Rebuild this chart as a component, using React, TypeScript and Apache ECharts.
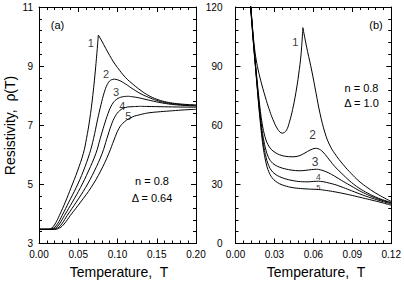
import React, { useEffect, useRef } from "react";
import * as echarts from "echarts";

const FONT = '"Liberation Sans", Arial, Helvetica, sans-serif';

// Panel (a): n = 0.8, Delta = 0.64  — [T, rho]
const curveA1 = [[0,3.48],[0.012,3.48],[0.0165,3.53],[0.0205,3.66],[0.026,3.95],[0.0335,4.4],[0.041,4.9],[0.049,5.45],[0.0565,6.05],[0.0605,6.55],[0.0645,7.18],[0.0685,8.0],[0.0723,9.0],[0.0756,10.05],[0.08,9.85],[0.085,9.6],[0.09,9.36],[0.095,9.14],[0.1,8.95],[0.11,8.62],[0.12,8.38],[0.13,8.17],[0.14,8.0],[0.15,7.88],[0.16,7.8],[0.17,7.75],[0.18,7.72],[0.19,7.7],[0.2,7.69]];
const curveA2 = [[0,3.48],[0.014,3.48],[0.019,3.53],[0.0235,3.66],[0.0295,3.95],[0.038,4.4],[0.0475,4.9],[0.0565,5.45],[0.0645,6.05],[0.0695,6.55],[0.0745,7.18],[0.079,7.7],[0.083,8.1],[0.087,8.38],[0.091,8.52],[0.096,8.56],[0.102,8.52],[0.11,8.4],[0.12,8.22],[0.13,8.06],[0.14,7.94],[0.15,7.84],[0.16,7.77],[0.17,7.73],[0.18,7.7],[0.19,7.68],[0.2,7.67]];
const curveA3 = [[0,3.48],[0.016,3.48],[0.0215,3.53],[0.026,3.66],[0.0325,3.95],[0.0425,4.4],[0.053,4.9],[0.063,5.45],[0.0725,6.05],[0.078,6.55],[0.083,7.0],[0.088,7.4],[0.093,7.7],[0.099,7.88],[0.106,7.96],[0.114,7.98],[0.125,7.94],[0.135,7.88],[0.15,7.79],[0.165,7.72],[0.18,7.68],[0.2,7.65]];
const curveA4 = [[0,3.48],[0.018,3.48],[0.024,3.53],[0.029,3.66],[0.036,3.95],[0.0475,4.4],[0.0595,4.9],[0.0705,5.45],[0.0805,6.05],[0.0865,6.55],[0.092,7.0],[0.097,7.3],[0.103,7.5],[0.11,7.6],[0.12,7.63],[0.13,7.64],[0.15,7.63],[0.17,7.62],[0.2,7.61]];
const curveA5 = [[0,3.48],[0.02,3.48],[0.0265,3.53],[0.032,3.66],[0.04,3.95],[0.053,4.4],[0.0665,4.9],[0.0785,5.45],[0.089,6.05],[0.0955,6.5],[0.102,6.9],[0.109,7.12],[0.119,7.28],[0.129,7.36],[0.14,7.42],[0.155,7.46],[0.17,7.49],[0.185,7.52],[0.2,7.54]];

// Panel (b): n = 0.8, Delta = 1.0 — [T, rho]
const curveB1 = [[0.0105,131],[0.0116,122],[0.0128,112],[0.014,103],[0.0155,95],[0.0175,88],[0.0201,81],[0.0238,72.5],[0.0265,67],[0.0288,63],[0.0325,58],[0.036,56],[0.039,57.2],[0.0415,61.5],[0.044,68],[0.0465,76.5],[0.0486,85.5],[0.0505,96],[0.0519,109.5],[0.0535,104],[0.0555,97.5],[0.0588,87.5],[0.062,76.5],[0.0651,66],[0.069,56],[0.0725,50],[0.0766,45.5],[0.083,40],[0.0893,35.4],[0.095,31.7],[0.102,28.2],[0.11,24.8],[0.12,21.3]];
const curveB2 = [[0.0105,130.5],[0.0116,121.5],[0.0128,111.5],[0.014,101.5],[0.0153,92],[0.0166,83],[0.0179,74.5],[0.0192,67],[0.0205,61],[0.022,56],[0.0235,52.5],[0.025,50.2],[0.0275,47.8],[0.0305,46.2],[0.034,45],[0.038,44.3],[0.0436,44],[0.048,44.3],[0.0515,45.2],[0.0555,46.7],[0.0595,48],[0.0625,48.3],[0.0655,47.5],[0.069,45.2],[0.0725,42.3],[0.0766,39],[0.083,34.8],[0.0893,31],[0.095,28.2],[0.102,25.5],[0.11,23],[0.12,20.8]];
const curveB3 = [[0.0105,130],[0.0116,121],[0.0128,111],[0.014,101],[0.0153,91],[0.0166,81.5],[0.0179,72.5],[0.0192,64.5],[0.0205,57.5],[0.022,51.5],[0.0235,47.3],[0.025,44.3],[0.0275,41.5],[0.0305,39.8],[0.034,38.7],[0.038,37.9],[0.0436,37.2],[0.049,36.9],[0.0537,37.1],[0.0585,37.5],[0.0626,37.7],[0.0665,37.2],[0.0715,35.9],[0.0765,34.1],[0.0817,32],[0.088,29.6],[0.0943,27.2],[0.1,25.3],[0.107,23.3],[0.114,21.7],[0.12,20.5]];
const curveB4 = [[0.0105,129.5],[0.0116,120.5],[0.0128,110.5],[0.014,100.5],[0.0153,90.5],[0.0166,80.5],[0.0179,71],[0.0192,62.5],[0.0205,55],[0.022,48.5],[0.0235,43.8],[0.025,40.5],[0.0275,37.2],[0.0305,35.2],[0.034,33.9],[0.038,32.9],[0.0435,32],[0.05,31.4],[0.056,31.3],[0.06,31.5],[0.064,31.6],[0.068,31.3],[0.0725,30.6],[0.0766,29.9],[0.083,28.4],[0.0893,26.8],[0.098,24.6],[0.107,22.6],[0.114,21.2],[0.12,20]];
const curveB5 = [[0.0105,129],[0.0116,120],[0.0128,110],[0.014,100],[0.0153,90],[0.0166,80],[0.0179,70],[0.0192,61],[0.0205,53],[0.022,46],[0.0235,41],[0.025,37.5],[0.0275,34],[0.0305,31.8],[0.034,30.3],[0.038,29.3],[0.0435,28.4],[0.05,27.9],[0.057,27.6],[0.064,27.4],[0.07,26.9],[0.0766,26.2],[0.085,25.1],[0.0918,24.1],[0.1,22.8],[0.107,21.7],[0.114,20.5],[0.12,19.4]];

// Curve number labels: [T, rho, text, fontSize]
const labelsA = [[0.0659,9.77,"1",11],[0.0854,8.73,"2",11],[0.0981,8.14,"3",11],[0.1061,7.66,"4",11],[0.1138,7.31,"5",11]];
const labelsB = [[0.0461,102.4,"1",11],[0.0593,55,"2",12],[0.0613,41.5,"3",12],[0.0638,33.9,"4",8.5],[0.0638,28.3,"5",7.5]];

const xRangeA = [0, 0.2, 0.05];
const yRangeA = [3, 11, 2];
const xRangeB = [0, 0.12, 0.03];
const yRangeB = [0, 120, 30];

function splitAtPeak(d: number[][]) {
  for (let i = 1; i < d.length - 1; i++) {
    if (d[i][1] > d[i - 1][1] && d[i][1] > d[i + 1][1]) {
      return [d.slice(0, i + 1), d.slice(i)];
    }
  }
  return [d];
}

function axisCommon(showLabel: boolean, margin: number, fmt: (v: number) => string) {
  return {
    type: "value",
    axisLine: { show: true, onZero: false, lineStyle: { color: "#000", width: 1 } },
    axisTick: { show: true, inside: true, length: 5, lineStyle: { color: "#000", width: 1 } },
    minorTick: { show: true, splitNumber: 5, length: 3, lineStyle: { color: "#000", width: 1 } },
    splitLine: { show: false },
    minorSplitLine: { show: false },
    axisLabel: { show: showLabel, color: "#000", fontSize: 10, fontFamily: FONT, margin, formatter: fmt },
  };
}

function mkAxis(gridIndex: number, position: string, r: number[], showLabel: boolean, margin: number, fmt: (v: number) => string) {
  return { ...axisCommon(showLabel, margin, fmt), gridIndex, position, min: r[0], max: r[1], interval: r[2] };
}

function lineSeries(data: number[][], axisIdx: number) {
  return splitAtPeak(data).map((seg) => ({
    type: "line",
    xAxisIndex: axisIdx,
    yAxisIndex: axisIdx,
    data: seg,
    symbol: "none",
    smooth: 0.4,
    clip: true,
    silent: true,
    lineStyle: { color: "#000", width: 1 },
  }));
}

function labelSeries(labels: any[][], axisIdx: number) {
  return {
    type: "scatter",
    xAxisIndex: axisIdx,
    yAxisIndex: axisIdx,
    symbolSize: 1,
    silent: true,
    itemStyle: { color: "rgba(0,0,0,0)" },
    label: { show: true, position: "inside", formatter: "{b}", color: "#000", fontFamily: FONT, fontSize: 11 },
    data: labels.map(([t, r, txt, fs]) => ({ value: [t, r], name: txt, label: { fontSize: fs } })),
  };
}

function txt(text: string, x: number, y: number, size: number, rotation = 0) {
  return {
    type: "text",
    x,
    y,
    rotation,
    silent: true,
    style: {
      text,
      fill: "#000",
      fontSize: size,
      fontFamily: FONT,
      align: "center",
      verticalAlign: "middle",
      textAlign: "center",
      textVerticalAlign: "middle",
    },
  };
}

export default function App() {
  const ref = useRef<HTMLDivElement>(null);
  useEffect(() => {
    if (!ref.current) return;
    const chart = echarts.init(ref.current, undefined, { renderer: "svg" });
    const fx = (v: number) => v.toFixed(2);
    const fy = (v: number) => String(Math.round(v));
    const option: any = {
      animation: false,
      textStyle: { fontFamily: FONT },
      grid: [
        { left: 39, top: 7, width: 157, height: 236.5 },
        { left: 235.5, top: 7, width: 157.5, height: 236.5 },
      ],
      xAxis: [
        mkAxis(0, "bottom", xRangeA, true, 6, fx),
        mkAxis(0, "top", xRangeA, false, 6, fx),
        mkAxis(1, "bottom", xRangeB, true, 6, fx),
        mkAxis(1, "top", xRangeB, false, 6, fx),
      ],
      yAxis: [
        mkAxis(0, "left", yRangeA, true, 6, fy),
        mkAxis(0, "right", yRangeA, false, 6, fy),
        mkAxis(1, "left", yRangeB, true, 13, fy),
        mkAxis(1, "right", yRangeB, false, 6, fy),
      ],
      series: [
        ...[curveA1, curveA2, curveA3, curveA4, curveA5].flatMap((c) => lineSeries(c, 0)),
        ...[curveB1, curveB2, curveB3, curveB4, curveB5].flatMap((c) => lineSeries(c, 2)),
        labelSeries(labelsA, 0),
        labelSeries(labelsB, 2),
      ],
      graphic: [
        txt("Resistivity,  \u03c1(T)", 10, 125.5, 14, Math.PI / 2),
        txt("Temperature,  T", 119, 271.5, 14),
        txt("Temperature,  T", 316, 271.5, 14),
        txt("(a)", 57.5, 25, 11),
        txt("(b)", 376, 25, 11),
        txt("n = 0.8", 152, 180.7, 11),
        txt("\u0394 = 0.64", 152, 197.5, 11),
        txt("n = 0.8", 361.5, 88.3, 11),
        txt("\u0394 = 1.0", 361.5, 102.7, 11),
      ],
    };
    chart.setOption(option);
    return () => chart.dispose();
  }, []);
  return <div ref={ref} style={{ position: "absolute", left: 0, top: 0, width: 404, height: 289 }} />;
}
